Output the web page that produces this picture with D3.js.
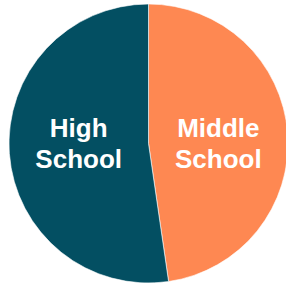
<!DOCTYPE html>
<html>
<head>
<meta charset="utf-8">
<script src="https://cdn.jsdelivr.net/npm/d3@7"></script>
<style>
  body { margin: 0; background: #fff; }
  svg { display: block; }
</style>
</head>
<body>
<svg width="286" height="286"></svg>
<script>
var categories = ["Middle School", "High School"];
var values = [47.7, 52.3];
var labelLines = [["Middle", "School"], ["High", "School"]];

var svg = d3.select("svg"),
    width = +svg.attr("width"),
    height = +svg.attr("height");

var cx = 148.5, cy = 143.5, radius = 139.5;

var color = d3.scaleOrdinal()
    .domain(categories)
    .range(["#fe8852", "#034f62"]);

var pie = d3.pie().sort(null);
var arcs = pie(values);

var arc = d3.arc().innerRadius(0).outerRadius(radius);
var labelArc = d3.arc().innerRadius(70).outerRadius(70);

var g = svg.append("g")
    .attr("transform", "translate(" + cx + "," + cy + ")");

g.selectAll("path")
  .data(arcs)
  .enter().append("path")
    .attr("d", arc)
    .attr("fill", function(d, i) { return color(categories[i]); })
    .attr("stroke", "#fff")
    .attr("stroke-width", 0.6);

var labels = g.selectAll("text")
  .data(arcs)
  .enter().append("text")
    .attr("x", function(d) { return labelArc.centroid(d)[0]; })
    .attr("y", 0)
    .attr("text-anchor", "middle")
    .attr("fill", "#fff")
    .attr("font-family", "Liberation Sans, Arial, sans-serif")
    .attr("font-weight", "bold")
    .attr("font-size", 26);

labels.each(function(d, i) {
  var t = d3.select(this);
  labelLines[i].forEach(function(line, j) {
    t.append("tspan")
      .attr("x", labelArc.centroid(d)[0])
      .attr("y", j === 0 ? -6.5 : 24.5)
      .text(line);
  });
});
</script>
</body>
</html>
